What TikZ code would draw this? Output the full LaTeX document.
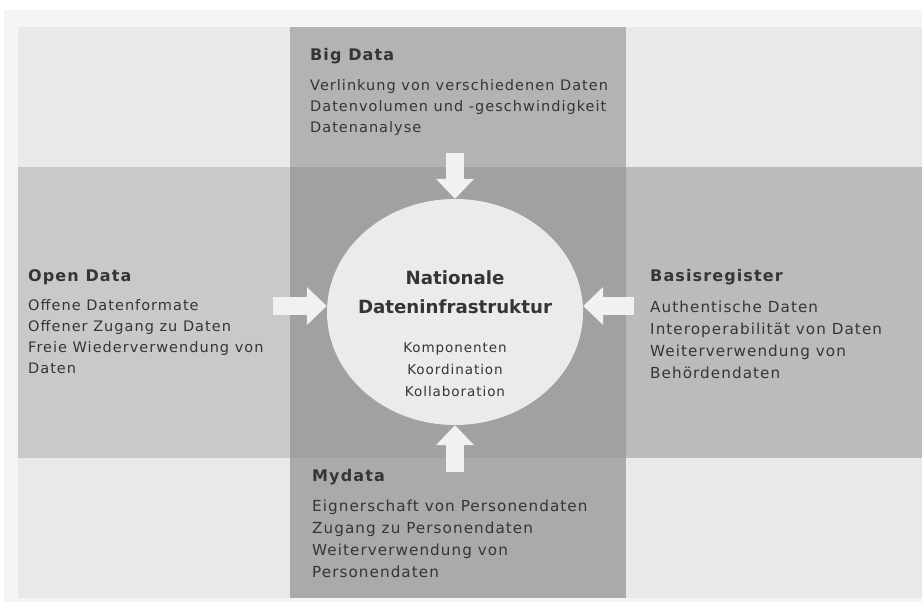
\documentclass[tikz,border=0pt]{standalone}
\usepackage{fontspec}
\setmainfont{DejaVu Sans}
\newfontfamily\bodyfont{DejaVu Sans}[LetterSpace=7]
\usetikzlibrary{shapes.geometric,arrows.meta}

\definecolor{corner}{HTML}{E9E9E9}
\definecolor{colband}{HTML}{B3B3B3}
\definecolor{colbandlow}{HTML}{AAAAAA}
\definecolor{rowleft}{HTML}{C9C9C9}
\definecolor{rowright}{HTML}{BBBBBB}
\definecolor{core}{HTML}{A1A1A1}
\definecolor{hubfill}{HTML}{EBEBEB}
\definecolor{pushfill}{HTML}{F1F1F1}
\definecolor{txt}{HTML}{353535}

% bold heading of a field
\newcommand{\fieldhead}[1]{\textbf{\fontsize{16}{21}\selectfont #1}}

\begin{document}
\begin{tikzpicture}[x=1pt, y=-1pt,
    every node/.style={inner sep=0pt, text=txt},
    block/.style={align=left, anchor=north west, font=\bodyfont\fontsize{14.5}{21}\selectfont},
    wideblock/.style={block, font=\bodyfont\fontsize{15.2}{22}\selectfont},
    push/.style={draw=pushfill, line width=18pt, -{Triangle[length=20pt, width=37pt]}}]
    % page and frame
    \fill[white] (0,0) rectangle (922,604);
    \fill[black!4] (4,10) rectangle (922,602);
    % the four fields and the two bands crossing them
    \fill[corner] (18,27) rectangle (922,598);
    \fill[colband] (290,27) rectangle (626,167);
    \fill[colbandlow] (290,458) rectangle (626,598);
    \fill[rowleft] (18,167) rectangle (290,458);
    \fill[rowright] (626,167) rectangle (922,458);
    \fill[core] (290,167) rectangle (626,458);

    \node[ellipse, fill=hubfill, minimum width=256pt, minimum height=226pt] (hub) at (455,312) {};
    \node[align=center, font=\fontsize{18.2}{29}\bfseries] (hubtitle) at (455,292) {Nationale\\Dateninfrastruktur};
    \node[align=center, font=\bodyfont\fontsize{13.5}{22}\selectfont] (hubsub) at (455,370) {Komponenten\\Koordination\\Kollaboration};

    \node[block] (bigdata) at (310,48) {\fieldhead{Big Data}\\[9pt]
        Verlinkung von verschiedenen Daten\\Datenvolumen und -geschwindigkeit\\Datenanalyse};
    \node[block] (opendata) at (28,269) {\fieldhead{Open Data}\\[8.5pt]
        Offene Datenformate\\Offener Zugang zu Daten\\Freie Wiederverwendung von\\Daten};
    \node[wideblock] (basis) at (650,269) {\fieldhead{Basisregister}\\[9pt]
        Authentische Daten\\Interoperabilität von Daten\\Weiterverwendung von\\Behördendaten};
    \node[wideblock] (mydata) at (312,469) {\fieldhead{Mydata}\\[8.5pt]
        Eignerschaft von Personendaten\\Zugang zu Personendaten\\Weiterverwendung von\\Personendaten};

    % arrows into the hub
    \coordinate (bigin) at (455,153);
    \coordinate (openin) at (273,306);
    \coordinate (basisin) at (634,306);
    \coordinate (myin) at (455,472);
    \draw[push] (bigin) -- (hub.north);
    \draw[push] (openin) -- (openin -| hub.west);
    \draw[push] (basisin) -- (basisin -| hub.east);
    \draw[push] (myin) -- (hub.south);
\end{tikzpicture}
\end{document}
